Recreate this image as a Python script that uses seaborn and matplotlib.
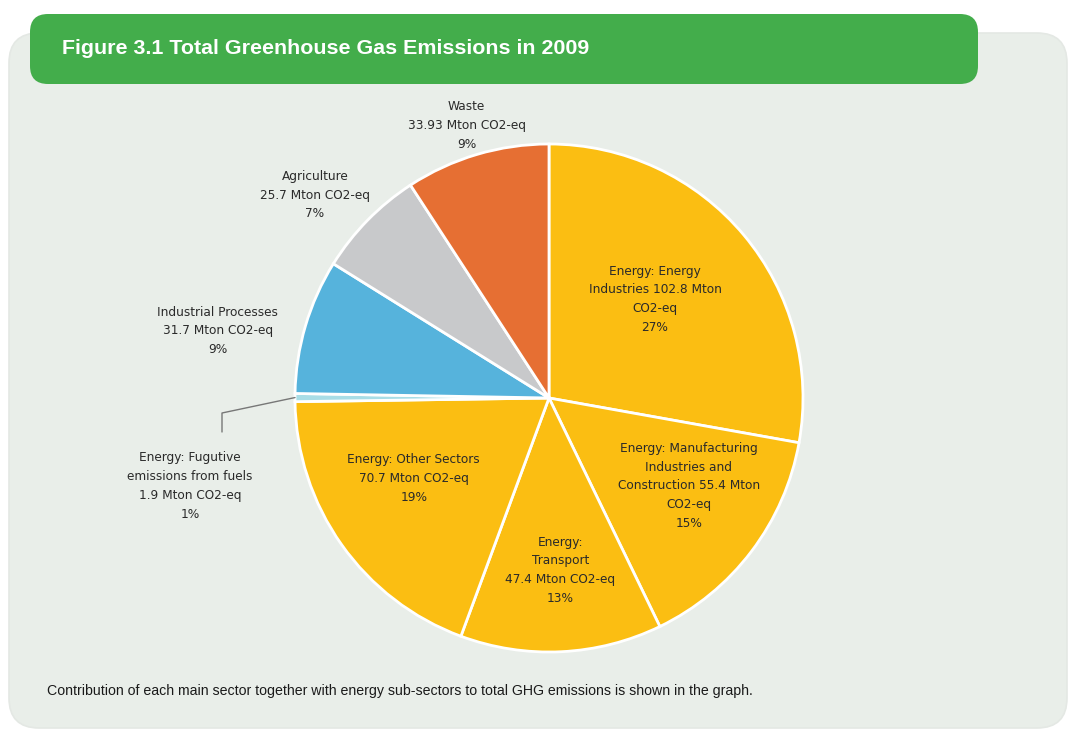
import matplotlib
matplotlib.use("Agg")
import matplotlib.pyplot as plt
from matplotlib.patches import FancyBboxPatch
import seaborn as sns
import numpy as np

# ---- data ----
sectors = [
    "Energy: Energy\nIndustries 102.8 Mton\nCO2-eq",
    "Energy: Manufacturing\nIndustries and\nConstruction 55.4 Mton\nCO2-eq",
    "Energy:\nTransport\n47.4 Mton CO2-eq",
    "Energy: Other Sectors\n70.7 Mton CO2-eq",
    "Energy: Fugutive\nemissions from fuels\n1.9 Mton CO2-eq",
    "Industrial Processes\n31.7 Mton CO2-eq",
    "Agriculture\n25.7 Mton CO2-eq",
    "Waste\n33.93 Mton CO2-eq",
]
values = [102.8, 55.4, 47.4, 70.7, 1.9, 31.7, 25.7, 33.93]
percents = ["27%", "15%", "13%", "19%", "1%", "9%", "7%", "9%"]
colors = ["#FBBE12", "#FBBE12", "#FBBE12", "#FBBE12",
          "#A9DDE6", "#56B3DC", "#C8C9CB", "#E66F33"]

title = "Figure 3.1 Total Greenhouse Gas Emissions in 2009"
footer = ("Contribution of each main sector together with energy sub-sectors "
          "to total GHG emissions is shown in the graph.")

# ---- figure ----
sns.set_theme(style="white")
plt.rcParams["font.family"] = ["DejaVu Sans"]

W, H = 1073, 730
fig = plt.figure(figsize=(W / 100, H / 100), dpi=100)
fig.patch.set_facecolor("white")
ax = fig.add_axes([0, 0, 1, 1])
ax.set_axis_off()

def Y(y):
    return H - y

# panel background
panel = FancyBboxPatch((9, Y(728)), 1058, 695,
                       boxstyle="round,pad=0,rounding_size=30",
                       facecolor="#E9EEE9", edgecolor="#E4E8E4", linewidth=1.2, zorder=0)
ax.add_patch(panel)
# green header
header = FancyBboxPatch((30, Y(84)), 948, 70,
                        boxstyle="round,pad=0,rounding_size=18",
                        facecolor="#43AD4B", edgecolor="none", zorder=1)
ax.add_patch(header)
ax.text(62, Y(48), title, color="white", fontsize=15.4, fontweight="bold",
        family=["Liberation Sans", "DejaVu Sans"],
        ha="left", va="center", zorder=2)
ax.text(47, Y(691), footer, color="#1a1a1a", fontsize=10.2,
        family=["Liberation Sans", "DejaVu Sans"],
        ha="left", va="center", zorder=2)

# pie
cx, cy, R = 549, Y(398), 254
wedges, _ = ax.pie(values, colors=colors, startangle=90, counterclock=False,
                   center=(cx, cy), radius=R, frame=True,
                   wedgeprops=dict(edgecolor="white", linewidth=2, zorder=3))
ax.set_xlim(0, W)
ax.set_ylim(0, H)
ax.set_aspect("equal")
ax.set_axis_off()

# label placement: (radial distance factor, angle offset in degrees)
place = [(0.57, 3), (0.65, 5), (0.68, 1), (0.62, -4.5),
         None, (1.33, 5), (1.22, 3.5), (1.12, 0.3)]
lab_font = dict(fontsize=8.7, color="#2a2a2a", ha="center", va="center",
                linespacing=1.58, zorder=5)
for w, lab, pct, pl in zip(wedges, sectors, percents, place):
    if pl is None:
        continue
    d, off = pl
    ang = np.deg2rad((w.theta1 + w.theta2) / 2 + off)
    ax.text(cx + d * R * np.cos(ang), cy + d * R * np.sin(ang),
            lab + "\n" + pct, **lab_font)

# fugitive emissions label with leader line
fw = wedges[4]
fang = np.deg2rad((fw.theta1 + fw.theta2) / 2)
sx, sy = cx + R * np.cos(fang), cy + R * np.sin(fang)
ax.plot([sx, 222, 222], [sy, Y(413), Y(432)], color="#777777", lw=1, zorder=4)
ax.text(190, Y(486), sectors[4] + "\n" + percents[4], **lab_font)

fig.savefig("out.png", dpi=100, facecolor="white")
